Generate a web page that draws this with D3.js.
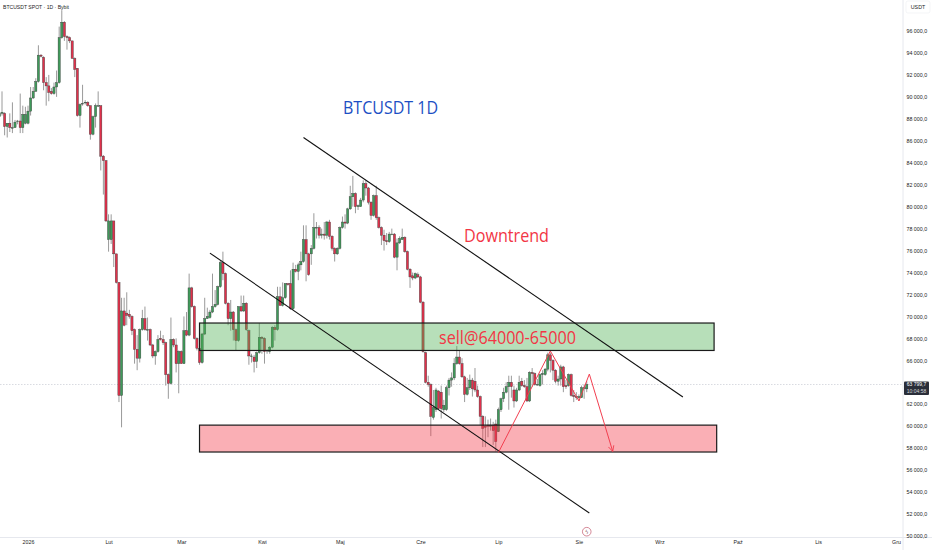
<!DOCTYPE html>
<html>
<head>
<meta charset="utf-8">
<style>
  html, body { margin: 0; padding: 0; background: #fff; }
  svg { display: block; }
</style>
</head>
<body>
<div id="chart"></div>
<script src="https://cdn.jsdelivr.net/npm/d3@7"></script>
<script>
// daily candles: [open, high, low, close] in thousands of USDT
const dec25 = [[88.2,88.6,88.1,88.5],[88.5,90.5,88.3,88.6],[88.5,88.6,86.5,87.3],[87.3,87.6,86.3,87.6],[87.6,88.5,86.8,87.2],[87.2,89.5,86.7,87.2],
  [87.2,87.9,87.2,87.7],[87.8,87.9,87.5,87.8],[87.8,90.3,86.7,87.2],[87.2,89.2,86.7,88.4],[87.6,89.1,87.5,88.4]]
const jan26 = [[87.6,89.2,87.5,88.7],[88.7,90.9,88.3,89.9],[89.9,90.9,89.8,90.5],[90.5,91.7,90.5,91.4],[91.4,94.7,91.3,93.8],[93.8,93.9,93.6,93.7],
  [93.6,93.7,90.6,91.3],[91.3,91.8,89.2,91.0],[91.0,92.0,89.6,90.4],[90.5,90.8,90.2,90.3],[90.3,91.3,90.2,90.9],[90.9,92.4,90.0,91.3],
  [91.3,96.4,91.2,95.4],[95.4,97.9,95.3,96.8],[96.8,96.9,95.1,95.5],[95.5,95.6,94.3,95.4],[95.4,95.5,94.9,95.1],[95.1,95.1,93.5,93.5],
  [93.5,93.6,91.8,92.5],[92.6,92.6,88.2,88.3],[88.3,89.4,87.2,89.3],[89.4,91.1,89.2,89.4],[89.5,89.7,89.3,89.5],[89.5,89.6,89.1,89.2],
  [89.2,89.2,86.1,86.6],[86.6,88.3,86.5,88.2],[88.2,89.4,87.2,89.2],[89.2,90.5,89.1,89.2],[89.2,89.2,83.3,84.6],[84.6,84.7,81.1,84.2],[84.2,84.2,78.6,78.7]]
const feb26 = [[77.0,79.3,75.9,78.7],[77.0,79.3,76.6,78.7],[78.7,78.7,74.5,75.7],[75.7,75.7,73.0,73.1],[73.1,73.1,62.2,62.8],[62.8,71.7,59.9,70.5],
  [70.5,71.7,69.1,69.2],[70.3,72.2,69.2,70.1],[70.2,70.6,69.8,70.0],[70.0,70.1,68.3,68.7],[68.8,68.9,65.7,67.0],[67.0,68.3,65.1,66.2],
  [66.2,68.9,65.8,68.8],[68.8,70.6,68.7,69.8],[69.8,70.9,68.7,68.8],[68.8,69.9,67.8,68.8],[68.8,68.9,67.3,67.4],[67.4,67.5,66.2,66.4],
  [66.4,66.9,65.6,66.8],[66.8,68.3,66.7,67.9],[68.0,68.7,67.8,67.9],[67.9,68.3,67.4,67.6],[67.6,67.7,63.7,64.7],[64.7,64.8,62.5,63.9],
  [63.9,69.9,63.8,67.9],[67.9,68.0,67.2,67.4],[67.4,68.0,64.9,65.7],[65.7,66.9,63.0,66.8]]
const mar26 = [[66.8,66.9,65.7,65.7],[65.7,70.0,65.7,68.7],[68.7,70.4,68.2,68.3],[68.3,73.9,68.2,72.6],[72.6,72.7,70.8,70.9],[70.9,71.0,67.9,68.0],
  [68.0,68.1,66.9,67.1],[67.1,68.0,65.6,65.8],[65.8,68.5,65.7,68.4],[68.4,71.7,68.3,69.8],[69.8,70.8,69.8,70.0],[69.9,70.6,69.8,70.4],
  [70.4,73.9,70.3,70.9],[70.9,72.4,70.8,71.1],[71.1,72.8,71.0,72.7],[72.7,75.1,72.6,74.9],[74.9,75.9,73.3,73.9],[73.9,74.0,71.1,71.2],
  [71.2,71.3,69.2,69.8],[69.8,71.5,68.7,70.4],[70.4,70.5,67.8,68.8],[68.8,68.9,66.9,67.8],[67.8,70.9,67.7,70.9],[70.9,71.9,70.4,70.5],
  [70.5,71.9,70.4,71.2],[71.2,71.3,68.7,68.8],[68.7,68.8,65.6,66.4],[66.4,66.6,65.8,66.4],[66.3,66.5,64.9,65.9],[65.9,66.8,65.3,66.7],[66.7,69.4,66.6,68.1]]
const apr26 = [[68.1,68.2,66.6,68.0],[68.0,68.1,65.7,66.8],[66.9,67.0,66.6,66.9],[66.8,67.3,66.6,67.2],[67.2,69.1,67.1,69.0],[69.0,69.2,67.8,68.8],
  [68.8,72.7,68.7,71.8],[71.8,72.7,71.0,71.0],[71.0,73.1,70.9,71.7],[71.7,73.0,71.6,73.0],[73.0,73.0,72.8,72.9],[73.0,74.2,70.6,70.7],
  [70.7,74.9,70.6,74.3],[74.3,74.7,74.0,74.1],[74.1,74.9,73.3,74.7],[74.7,75.9,74.2,75.0],[75.0,78.3,74.9,77.0],[77.0,78.3,73.2,75.7],
  [75.7,75.8,73.7,73.8],[75.7,76.5,74.7,76.2],[76.2,79.4,76.1,78.1],[78.1,78.6,77.1,78.1],[78.1,78.3,77.1,77.4],[77.4,78.0,77.1,77.5],
  [77.5,78.6,77.0,77.4],[77.4,78.7,77.1,78.6],[78.6,78.8,77.0,77.3],[77.3,77.4,76.0,76.2],[76.2,76.3,75.0,75.7],[75.7,76.3,75.6,76.2]]
const may26 = [[76.2,78.2,76.1,78.1],[78.1,79.1,78.0,78.6],[78.6,79.3,78.0,78.5],[78.5,79.9,78.4,79.8],[79.8,81.9,79.7,80.9],[80.9,82.8,80.0,81.2],
  [81.2,81.3,79.4,80.0],[80.0,80.2,79.7,80.1],[80.0,80.8,80.0,80.6],[80.6,82.4,80.4,82.1],[82.1,82.4,81.0,81.7],[81.7,81.8,80.2,80.4],
  [80.4,80.5,78.8,79.2],[79.2,81.1,79.1,81.0],[81.0,81.9,78.8,79.0],[79.0,79.1,78.0,78.1],[78.1,78.2,76.5,77.4],[77.4,77.9,76.0,76.9],
  [76.9,77.6,76.5,76.8],[76.8,77.7,76.7,77.5],[77.5,78.0,77.4,77.5],[77.5,77.6,75.3,75.4],[75.4,77.1,74.2,76.7],[76.7,77.3,76.6,77.1],
  [77.0,78.0,77.0,77.2],[77.2,77.3,75.8,75.9],[75.9,76.0,74.2,74.3],[74.3,74.4,72.6,73.6],[73.7,74.0,73.3,73.5],[73.5,74.0,73.4,73.9],[73.8,74.0,73.5,73.6]]
const jun26 = [[73.6,73.7,71.2,71.3],[71.3,71.4,66.7,66.8],[66.7,66.8,63.9,64.0],[64.0,64.6,63.6,63.8],[63.8,63.9,59.1,60.9],[60.8,63.3,60.6,61.7],
  [61.5,63.5,61.3,63.3],[63.2,63.3,61.5,61.6],[63.1,63.7,60.7,61.6],[61.5,62.4,61.3,61.9],[61.5,63.7,61.4,63.5],[63.5,64.4,62.8,64.2],
  [64.2,64.9,63.6,64.4],[64.4,66.2,64.2,65.7],[65.7,67.3,65.6,66.3],[66.3,66.9,65.6,65.7],[65.7,66.2,64.4,64.5],[64.5,64.6,62.2,62.9],
  [62.9,64.4,62.8,63.5],[63.5,64.7,63.3,64.2],[64.2,64.4,62.7,63.4],[64.1,65.3,63.1,63.3],[63.3,63.7,62.6,62.7],[62.7,62.8,60.1,60.9],
  [60.9,61.0,58.1,59.8],[60.0,60.9,58.1,59.9],[60.1,60.6,59.0,60.0],[60.0,60.7,59.6,60.1],[60.1,60.4,58.3,59.6],[60.2,60.6,57.7,58.6]]
const jul26 = [[59.5,61.7,59.5,61.5],[61.5,62.6,61.3,62.5],[62.5,63.5,62.2,63.1],[63.1,64.0,63.0,63.6],[63.6,64.6,61.5,64.0],[64.0,64.6,62.6,63.6],
  [63.3,63.7,61.7,62.3],[62.3,63.5,62.2,63.3],[63.3,64.6,63.2,64.0],[64.1,64.4,63.6,63.7],[63.7,64.2,63.5,63.6],[63.6,64.4,62.2,62.3],
  [62.3,65.0,62.2,64.9],[64.9,65.3,63.6,64.8],[64.8,64.9,63.7,63.8],[63.8,64.3,63.7,63.8],[63.7,64.8,63.6,64.7],[64.7,65.1,63.8,64.8],
  [64.7,65.3,64.6,65.2],[65.2,66.7,65.0,66.5],[66.5,66.7,64.9,66.0],[66.0,66.1,64.2,65.1],[65.1,65.2,63.9,64.1],[64.1,64.6,63.7,64.3],
  [64.3,65.6,63.7,65.4],[65.4,65.5,63.1,63.6],[63.7,64.2,63.4,63.6],[63.7,64.8,63.6,64.7],[64.7,64.8,62.7,62.8],[62.8,63.3,62.2,62.7],[62.7,63.1,62.4,62.6]]
const aug26 = [[62.6,62.9,62.3,62.7],[62.6,63.7,62.6,63.5],[63.5,63.8,62.5,63.5],[63.4,64.1,63.1,63.8]]

const monthLabels = ["2026","Lut","Mar","Kwi","Maj","Cze","Lip","Sie","Wrz","Paź","Lis","Gru"]
const priceTicks = [96,94,92,90,88,86,84,82,80,78,76,74,72,70,68,66,62,60,58,56,54,52,50]
const lastPrice = 63.7997

// drawings on the chart, as [date, price]
const upperTrend = [["2026-04-17",86.3],["2026-09-10",62.66]]
const lowerTrend = [["2026-03-12",75.77],["2026-08-05",52.09]]
const projection = [["2026-07-01",57.6],["2026-07-21",66.85],["2026-08-01",62.3],["2026-08-05",64.75],["2026-08-14",57.7]]
const sellZone = {from:"2026-03-08",to:"2026-09-22",top:69.4,bottom:66.9}
const buyZone = {from:"2026-03-08",to:"2026-09-23",top:60.1,bottom:57.65}

const width = 932, height = 550
const axisX = 903, axisY = 537.5
const upColor = "#3f9a5a", downColor = "#e0314b"
const labelFont = "'Liberation Sans', sans-serif"
const parseDay = s => new Date(s + "T00:00:00Z")

const candles = d3.merge([dec25,jan26,feb26,mar26,apr26,may26,jun26,jul26,aug26]).map((c,i) => ({
  date: d3.utcDay.offset(parseDay("2025-12-21"), i),
  open: c[0], high: c[1], low: c[2], close: c[3]
}))

const xScale = d3.scaleUtc()
  .domain([parseDay("2026-01-01"), parseDay("2026-12-01")])
  .range([28, 896])
const yScale = d3.scaleLinear()
  .domain([50, 96])
  .range([536, 31])

const svg = d3.select("#chart").append("svg")
  .attr("width", width)
  .attr("height", height)
  .style("font-family", labelFont)

// frame
svg.append("line").attr("x1", axisX).attr("x2", axisX).attr("y1", 0).attr("y2", height).attr("stroke", "#e6e8ee")
svg.append("line").attr("x1", 0).attr("x2", width).attr("y1", axisY).attr("y2", axisY).attr("stroke", "#e6e8ee")

// last price line
svg.append("line")
  .attr("x1", 0).attr("x2", axisX)
  .attr("y1", yScale(lastPrice)).attr("y2", yScale(lastPrice))
  .attr("stroke", "#bfc3cc").attr("stroke-width", 0.6).attr("stroke-dasharray", "1.5 1.5")

// candles
const candle = svg.append("g").selectAll("g").data(candles).join("g")
candle.append("line")
  .attr("x1", d => xScale(d.date)).attr("x2", d => xScale(d.date))
  .attr("y1", d => yScale(d.high)).attr("y2", d => yScale(d.low))
  .attr("stroke", "#9a9a9a").attr("stroke-width", 1)
candle.append("rect")
  .attr("x", d => xScale(d.date) - 1.1)
  .attr("width", 2.2)
  .attr("y", d => yScale(Math.max(d.open, d.close)))
  .attr("height", d => Math.max(0.6, Math.abs(yScale(d.open) - yScale(d.close))))
  .attr("fill", d => d.close >= d.open ? upColor : downColor)
  .attr("stroke", "#3a3a3a").attr("stroke-width", 0.4)

// zones
function drawZone(zone, fill) {
  svg.append("rect")
    .attr("x", xScale(parseDay(zone.from)))
    .attr("width", xScale(parseDay(zone.to)) - xScale(parseDay(zone.from)))
    .attr("y", yScale(zone.top))
    .attr("height", yScale(zone.bottom) - yScale(zone.top))
    .attr("fill", fill)
    .attr("stroke", "#1a1a1a").attr("stroke-width", 1.2)
}
drawZone(sellZone, "rgba(76,175,80,0.4)")
drawZone(buyZone, "rgba(242,54,69,0.4)")

// trend lines and the projected move
const pathLine = d3.line().x(d => xScale(parseDay(d[0]))).y(d => yScale(d[1]))
svg.append("path").attr("d", pathLine(upperTrend)).attr("fill", "none").attr("stroke", "#111").attr("stroke-width", 1.1)
svg.append("path").attr("d", pathLine(lowerTrend)).attr("fill", "none").attr("stroke", "#111").attr("stroke-width", 1.1)

svg.append("defs").append("marker")
  .attr("id", "arrow")
  .attr("viewBox", "0 0 10 10").attr("refX", 9).attr("refY", 5)
  .attr("markerWidth", 7).attr("markerHeight", 7).attr("markerUnits", "userSpaceOnUse")
  .attr("orient", "auto")
  .append("path").attr("d", "M1,1 L9,5 L1,9").attr("fill", "none").attr("stroke", "#f23f50").attr("stroke-width", 1.2)
svg.append("path").attr("d", pathLine(projection))
  .attr("fill", "none").attr("stroke", "#f23f50").attr("stroke-width", 1)
  .attr("marker-end", "url(#arrow)")

// chart notes, squeezed to the narrower face of the original
const notes = [
  {text: "BTCUSDT 1D", x: 343, y: 114, w: 95, color: "#1c4fc4"},
  {text: "Downtrend", x: 464, y: 242, w: 85, color: "#f23645"},
  {text: "sell@64000-65000", x: 439, y: 344, w: 137, color: "#f23645"}
]
svg.append("g").selectAll("text").data(notes).join("text")
  .attr("x", d => d.x).attr("y", d => d.y)
  .attr("fill", d => d.color)
  .attr("font-size", 18.5)
  .attr("textLength", d => d.w)
  .attr("lengthAdjust", "spacingAndGlyphs")
  .style("font-family", "'Open Sans', sans-serif")
  .text(d => d.text)

svg.append("text").attr("x", 3).attr("y", 9.2)
  .attr("font-size", 5.6).attr("fill", "#222")
  .attr("textLength", 66).attr("lengthAdjust", "spacingAndGlyphs")
  .text("BTCUSDT SPOT · 1D · Bybit")

// price axis
const priceFormat = v => d3.format(",.1f")(v * 1000).replace(",", " ").replace(".", ",")
const yAxis = svg.append("g")
  .attr("transform", `translate(${axisX},0)`)
  .call(d3.axisRight(yScale).tickValues(priceTicks).tickSize(0).tickPadding(3.5).tickFormat(priceFormat))
yAxis.select(".domain").remove()
yAxis.selectAll("text").attr("font-size", 5.3).attr("fill", "#222").style("font-family", labelFont)

// time axis
const xAxis = svg.append("g")
  .attr("transform", `translate(0,${axisY})`)
  .call(d3.axisBottom(xScale)
    .tickValues(d3.utcMonth.range(parseDay("2026-01-01"), parseDay("2026-12-02")))
    .tickSize(0).tickPadding(3)
    .tickFormat((d, i) => monthLabels[i]))
xAxis.select(".domain").remove()
xAxis.selectAll("text").attr("font-size", 5.3).attr("fill", "#222").style("font-family", labelFont)

// currency box
svg.append("rect").attr("x", 906).attr("y", 1).attr("width", 24).attr("height", 12).attr("rx", 2)
  .attr("fill", "#fff").attr("stroke", "#eceef2").attr("stroke-width", 0.6)
svg.append("text").attr("x", 918).attr("y", 9).attr("text-anchor", "middle")
  .attr("font-size", 5.3).attr("fill", "#222").text("USDT")

// last price tag
const tagY = yScale(lastPrice)
svg.append("rect").attr("x", 904).attr("y", tagY - 3).attr("width", 25).attr("height", 13.5).attr("rx", 1)
  .attr("fill", "#2a2e39")
svg.append("text").attr("x", 916.5).attr("y", tagY + 1.8).attr("text-anchor", "middle")
  .attr("font-size", 5).attr("fill", "#fff").text(priceFormat(lastPrice))
svg.append("text").attr("x", 916.5).attr("y", tagY + 8).attr("text-anchor", "middle")
  .attr("font-size", 5).attr("fill", "#d5d7dd").text("10:04:58")

// event marker below the last candle
const markerX = xScale(parseDay("2026-08-04"))
svg.append("circle").attr("cx", markerX).attr("cy", 531.7).attr("r", 4.3)
  .attr("fill", "#fff").attr("stroke", "#c2546a").attr("stroke-width", 0.7)
svg.append("text").attr("x", markerX).attr("y", 533.7).attr("text-anchor", "middle")
  .attr("font-size", 5.5).attr("fill", "#8a4a5a").style("font-family", "'DejaVu Sans', sans-serif").text("ϟ")
</script>
</body>
</html>
